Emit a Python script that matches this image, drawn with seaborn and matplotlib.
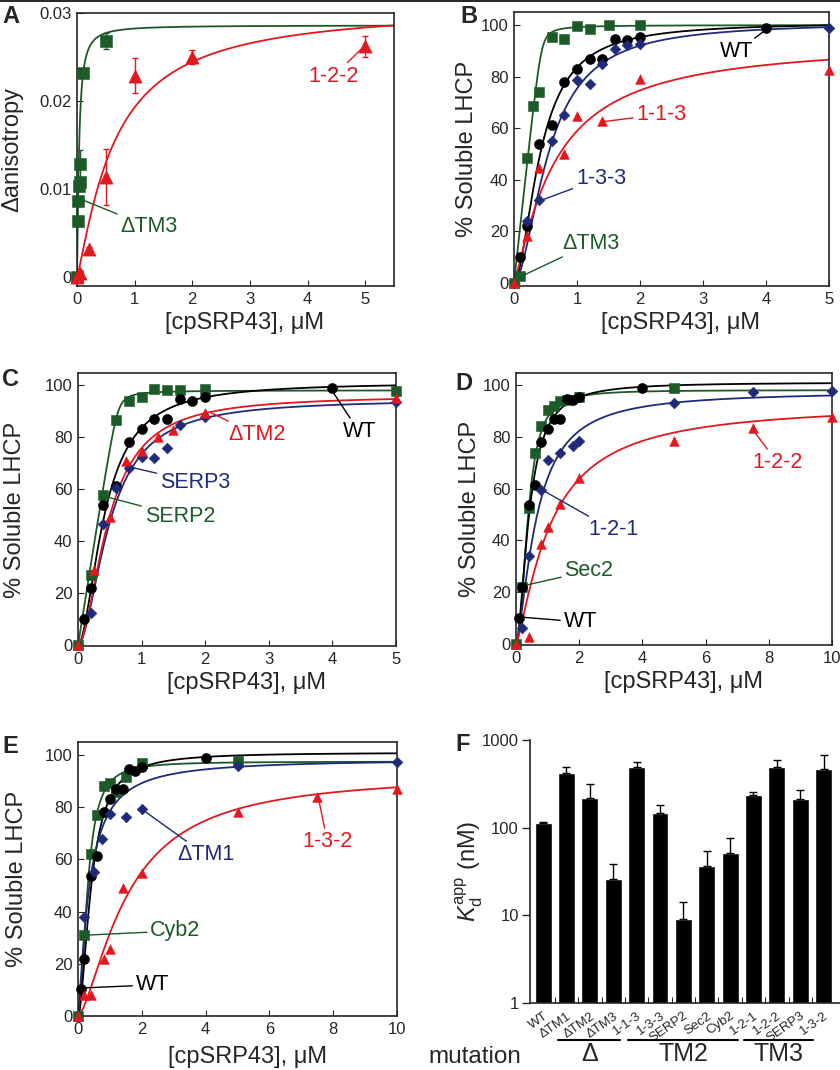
import numpy as np
import pandas as pd
import matplotlib
matplotlib.use("Agg")
import matplotlib.pyplot as plt
import matplotlib.transforms as mtransforms
from matplotlib.lines import Line2D
from matplotlib.ticker import FixedLocator, NullLocator
import seaborn as sns

# Estilo general
sns.set_style("ticks")
plt.rcParams['font.family'] = ['Liberation Sans', 'DejaVu Sans']
plt.rcParams['mathtext.fontset'] = 'custom'
plt.rcParams['mathtext.rm'] = 'Liberation Sans'
plt.rcParams['mathtext.it'] = 'Liberation Sans:italic'

GREEN = '#1c5a28'
RED = '#e3171e'
BLUE = '#1f2a78'
BLACK = '#000000'

# ---------------- datos ----------------
# Panel A (anisotropía)
a_dtm3_x = [0, 0.01, 0.025, 0.04, 0.045, 0.05, 0.1, 0.5]
a_dtm3_y = [0, 0.0064, 0.0086, 0.0104, 0.0108, 0.0129, 0.0232, 0.0268]
a_dtm3_err = [0.0002, 0.0006, 0.0005, 0.0006, 0.0006, 0.0016, 0.0004, 0.0009]
a_122_x = [0, 0.05, 0.2, 0.5, 1.0, 2.0, 5.0]
a_122_y = [0, 0.0005, 0.0032, 0.0114, 0.0229, 0.0250, 0.0262]
a_122_err = [0.0002, 0.0003, 0.0002, 0.0032, 0.0020, 0.0008, 0.0012]

# WT (comun a B-E)
wt_x = [0.1, 0.2, 0.4, 0.6, 0.8, 1.0, 1.2, 1.4, 1.6, 1.8, 2.0, 4.0]
wt_y = [10.2, 22, 53.7, 61.3, 78, 83, 86.8, 86.8, 94.7, 94, 95.3, 98.8]

# Panel B
b_dtm3_x = [0, 0.1, 0.2, 0.3, 0.4, 0.6, 0.8, 1.0, 1.2, 1.5, 2.0]
b_dtm3_y = [0, 2.7, 48.6, 68.6, 74, 95.5, 94.4, 99.4, 98.6, 99.8, 99.8]
b_133_x = [0.2, 0.4, 0.6, 0.8, 1.0, 1.2, 1.4, 1.6, 1.8, 2.0, 5.0]
b_133_y = [24, 32.2, 55, 65, 78.5, 77.2, 84.9, 90.7, 92.2, 92.6, 98.8]
b_113_x = [0, 0.2, 0.4, 0.8, 1.0, 1.4, 2.0, 5.0]
b_113_y = [0, 18.2, 44.6, 50, 64.8, 62.9, 78.9, 82.5]

# Panel C
c_serp2_x = [0, 0.2, 0.4, 0.6, 0.8, 1.0, 1.2, 1.4, 1.6, 2.0, 5.0]
c_serp2_y = [0, 26.9, 57.7, 86.5, 93.8, 95.5, 98.3, 98.1, 98.1, 98.6, 97.7]
c_serp3_x = [0.2, 0.4, 0.6, 0.8, 1.0, 1.2, 1.4, 1.6, 2.0, 5.0]
c_serp3_y = [12.4, 46.4, 60.3, 68.2, 72.2, 71.8, 75.9, 84.6, 87.6, 93.6]
c_dtm2_x = [0, 0.25, 0.5, 0.75, 1.0, 1.25, 1.5, 2.0, 5.0]
c_dtm2_y = [0, 28.8, 49.1, 70.8, 74.6, 80.1, 82.7, 89.4, 94.9]

# Panel D
d_sec2_x = [0, 0.2, 0.4, 0.6, 0.8, 1.0, 1.2, 1.4, 1.6, 2.0, 5.0]
d_sec2_y = [0, 21.8, 52.6, 73.9, 84.2, 90.4, 91.9, 93.6, 94.2, 95.5, 99.0]
d_121_x = [0.2, 0.4, 0.8, 1.0, 1.4, 1.8, 2.0, 5.0, 7.5, 10.0]
d_121_y = [6.3, 34, 59.5, 71, 73.6, 76.4, 78.5, 93.2, 97.2, 97.8]
d_122_x = [0, 0.4, 0.8, 1.0, 1.4, 2.0, 5.0, 7.5, 10.0]
d_122_y = [0, 2.8, 38.5, 45, 54, 64, 78.4, 83.5, 87.5]

# Panel E
e_cyb2_x = [0, 0.2, 0.4, 0.6, 0.8, 1.0, 1.2, 1.5, 2.0, 5.0]
e_cyb2_y = [0, 31, 62, 77, 88.1, 89.4, 85.8, 91.4, 96.8, 97.8]
e_dtm1_x = [0.2, 0.5, 0.75, 1.0, 1.5, 2.0, 5.0, 10.0]
e_dtm1_y = [37.8, 55, 68, 77.3, 76.4, 79.3, 95.8, 97.4]
e_132_x = [0, 0.2, 0.4, 0.8, 1.0, 1.4, 2.0, 5.0, 7.5, 10.0]
e_132_y = [0, 8, 8, 21.7, 25.5, 48.9, 54.9, 78.3, 84, 86.8]

# Parametros de ajuste
# Hill: [maximo, K (uM), n]
fit_a_dtm3 = [0.0286, 0.035, 1.3]
fit_a_122 = [0.0308, 0.65, 1.2]
fit_wt = [101, 0.42, 1.8]
fit_b_133 = [101, 0.55, 1.8]
fit_b_113 = [94, 0.65, 1.2]
fit_c_serp3 = [94.5, 0.5, 1.8]
fit_c_dtm2 = [96, 0.48, 1.8]
fit_d_sec2 = [98, 0.38, 2.2]
fit_d_121 = [97.5, 0.65, 1.5]
fit_d_122 = [93, 1.1, 1.3]
fit_e_cyb2 = [97.5, 0.3, 2.0]
fit_e_dtm1 = [98.5, 0.35, 1.3]
fit_e_132 = [93, 1.55, 1.5]
# union estrecha (cuadratica): [maximo, Kd (uM), LHCP (uM)]
fit_b_dtm3 = [100, 0.005, 0.44]
fit_c_serp2 = [98, 0.005, 0.63]

# Panel F: Kd aparente (nM)
f_names = ['WT', 'ΔTM1', 'ΔTM2', 'ΔTM3', '1-1-3', '1-3-3', 'SERP2', 'Sec2',
           'Cyb2', '1-2-1', '1-2-2', 'SERP3', '1-3-2']
f_kd = [112, 416, 219, 26.2, 495, 146, 9.1, 36.2, 51.7, 237, 491, 210, 462]
f_kd_top = [116, 495, 312, 38.7, 556, 180, 14.3, 53.7, 76, 255, 595, 266, 673]

W, H = 840, 1070


def hill(x, p):
    top, k, n = p
    return top * x ** n / (k ** n + x ** n)


def quad(x, p):
    top, k, lt = p
    b = lt + x + k
    return top * (b - np.sqrt(b ** 2 - 4 * lt * x)) / (2 * lt)


def add_ax(fig, l, r, t, b):
    return fig.add_axes([l / W, 1 - b / H, (r - l) / W, (b - t) / H])


def curve(ax, p, xmax, color, model=hill):
    xs = np.linspace(0, xmax, 500)
    sns.lineplot(x=xs, y=model(xs, p), ax=ax, color=color, lw=1.3,
                 estimator=None, sort=False, zorder=2)


def points(ax, x, y, marker, s, color):
    sns.scatterplot(x=x, y=y, ax=ax, marker=marker, s=s, color=color,
                    edgecolor=color, linewidth=0.4, zorder=3, clip_on=False)


def label(ax, text, xy, xytext, color):
    ax.annotate(text, xy=xy, xytext=xytext, color=color, fontsize=15.5,
                ha='center', va='center',
                arrowprops=dict(arrowstyle='-', color=color, lw=1.0,
                                shrinkA=0, shrinkB=0))


def style_ax(ax, xlim, ylim, xticks, yticks, ylabel, ylab_x, xlab_y):
    ax.set_xlim(*xlim)
    ax.set_ylim(*ylim)
    ax.set_xticks(xticks)
    ax.set_yticks(yticks)
    ax.tick_params(direction='in', length=4, width=0.8, labelsize=12,
                   top=False, right=False, pad=4)
    for sp in ax.spines.values():
        sp.set_linewidth(1.2)
        sp.set_visible(True)
    ax.set_xlabel('[cpSRP43], μM', fontsize=17)
    ax.set_ylabel(ylabel, fontsize=17)
    ax.yaxis.set_label_coords(ylab_x, 0.5)
    ax.xaxis.set_label_coords(0.53, xlab_y)


def series4(ax, xs, ys, s_scale=1.0):
    # verde (cuadrados), negro (circulos), azul (rombos), rojo (triangulos)
    markers = [('s', 50, GREEN), ('o', 52, BLACK), ('D', 30, BLUE),
               ('^', 48, RED)]
    for (m, s, c), x, y in zip(markers, xs, ys):
        points(ax, x, y, m, s * s_scale, c)


fig = plt.figure(figsize=(W / 100, H / 100), dpi=100)

# ---------------- Panel A ----------------
axA = add_ax(fig, 77, 394, 13, 286)
curve(axA, fit_a_dtm3, 5.5, GREEN)
curve(axA, fit_a_122, 5.5, RED)
axA.errorbar(a_dtm3_x, a_dtm3_y, yerr=a_dtm3_err, fmt='none', ecolor=GREEN,
             elinewidth=1, capsize=2.5, zorder=2.5)
axA.errorbar(a_122_x, a_122_y, yerr=a_122_err, fmt='none', ecolor=RED,
             elinewidth=1, capsize=2.5, zorder=2.5)
points(axA, a_dtm3_x, a_dtm3_y, 's', 80, GREEN)
points(axA, a_122_x, a_122_y, '^', 90, RED)
style_ax(axA, (0, 5.5), (-0.001, 0.030), [0, 1, 2, 3, 4, 5],
         [0, 0.01, 0.02, 0.03], 'Δanisotropy', -0.17, -0.095)
axA.set_yticklabels(['0', '0.01', '0.02', '0.03'])
label(axA, '1-2-2', (4.93, 0.0259), (4.45, 0.0228), RED)
label(axA, 'ΔTM3', (0.05, 0.0089), (1.25, 0.0057), GREEN)

# ---------------- Panel B ----------------
axB = add_ax(fig, 514, 829, 12, 286)
curve(axB, fit_b_dtm3, 5, GREEN, quad)
curve(axB, fit_wt, 5, BLACK)
curve(axB, fit_b_133, 5, BLUE)
curve(axB, fit_b_113, 5, RED)
series4(axB, [b_dtm3_x, wt_x, b_133_x, b_113_x],
        [b_dtm3_y, wt_y, b_133_y, b_113_y])
style_ax(axB, (0, 5), (-1.2, 105), [0, 1, 2, 3, 4, 5],
         [0, 20, 40, 60, 80, 100], '% Soluble LHCP', -0.115, -0.095)
label(axB, 'WT', (3.99, 98), (3.53, 89.5), BLACK)
label(axB, '1-1-3', (1.39, 62.4), (2.34, 65.4), RED)
label(axB, '1-3-3', (0.44, 32.1), (1.38, 40.6), BLUE)
label(axB, 'ΔTM3', (0.12, 2.6), (1.23, 15.4), GREEN)

# ---------------- Panel C ----------------
axC = add_ax(fig, 78, 396, 373, 646)
curve(axC, fit_c_serp2, 5, GREEN, quad)
curve(axC, fit_wt, 5, BLACK)
curve(axC, fit_c_serp3, 5, BLUE)
curve(axC, fit_c_dtm2, 5, RED)
series4(axC, [c_serp2_x, wt_x, c_serp3_x, c_dtm2_x],
        [c_serp2_y, wt_y, c_serp3_y, c_dtm2_y])
style_ax(axC, (0, 5), (-0.3, 104.6), [0, 1, 2, 3, 4, 5],
         [0, 20, 40, 60, 80, 100], '% Soluble LHCP', -0.165, -0.095)
label(axC, 'ΔTM2', (2.07, 89.6), (2.81, 80.8), RED)
label(axC, 'WT', (3.99, 98), (4.42, 82), BLACK)
label(axC, 'SERP3', (0.81, 68.5), (1.84, 62.7), BLUE)
label(axC, 'SERP2', (0.45, 57), (1.6, 49.6), GREEN)

# ---------------- Panel D ----------------
axD = add_ax(fig, 516, 832, 373, 645)
curve(axD, fit_d_sec2, 10, GREEN)
curve(axD, fit_wt, 10, BLACK)
curve(axD, fit_d_121, 10, BLUE)
curve(axD, fit_d_122, 10, RED)
series4(axD, [d_sec2_x, wt_x, d_121_x, d_122_x],
        [d_sec2_y, wt_y, d_121_y, d_122_y])
style_ax(axD, (0, 10), (-0.4, 104.6), [0, 2, 4, 6, 8, 10],
         [0, 20, 40, 60, 80, 100], '% Soluble LHCP', -0.112, -0.095)
label(axD, '1-2-2', (7.5, 82.6), (8.28, 69.9), RED)
label(axD, '1-2-1', (0.82, 59.5), (3.07, 44), BLUE)
label(axD, 'Sec2', (0.35, 22.8), (2.31, 28.2), GREEN)
label(axD, 'WT', (0.13, 10.4), (2.03, 8.5), BLACK)

# ---------------- Panel E ----------------
axE = add_ax(fig, 78, 397, 742, 1016)
curve(axE, fit_e_cyb2, 10, GREEN)
curve(axE, fit_wt, 10, BLACK)
curve(axE, fit_e_dtm1, 10, BLUE)
curve(axE, fit_e_132, 10, RED)
series4(axE, [e_cyb2_x, wt_x, e_dtm1_x, e_132_x],
        [e_cyb2_y, wt_y, e_dtm1_y, e_132_y])
style_ax(axE, (0, 10), (0, 105), [0, 2, 4, 6, 8, 10],
         [0, 20, 40, 60, 80, 100], '% Soluble LHCP', -0.157, -0.11)
label(axE, '1-3-2', (7.53, 83.9), (7.82, 66.7), RED)
label(axE, 'ΔTM1', (2.04, 78.9), (4.0, 61.7), BLUE)
label(axE, 'Cyb2', (0.27, 31), (3.05, 32.6), GREEN)
label(axE, 'WT', (0.05, 10.7), (2.33, 11.9), BLACK)

# ---------------- Panel F ----------------
axF = add_ax(fig, 530, 840, 740, 1003)
df_f = pd.DataFrame({'mutation': f_names, 'kd': f_kd})
sns.barplot(data=df_f, x='mutation', y='kd', color='black', saturation=1,
            width=0.72, errorbar=None, ax=axF, log_scale=(False, True))
err_up = np.array(f_kd_top) - np.array(f_kd)
axF.errorbar(np.arange(len(f_kd)), f_kd, yerr=[np.zeros(len(f_kd)), err_up],
             fmt='none', ecolor='black', elinewidth=1, capsize=3, zorder=3)
axF.set_yscale('log')
axF.set_ylim(1, 1000)
axF.set_xlim(-0.56, 12.7)
axF.yaxis.set_major_locator(FixedLocator([1, 10, 100, 1000]))
axF.yaxis.set_minor_locator(NullLocator())
axF.set_yticklabels(['1', '10', '100', '1000'])
axF.tick_params(axis='y', direction='out', length=6, width=1, labelsize=12,
                pad=2)
axF.set_xticks(np.arange(len(f_kd)))
axF.set_xticklabels(f_names, rotation=35, ha='right', rotation_mode='anchor',
                    fontsize=9.5)
axF.tick_params(axis='x', length=0, pad=5)
axF.xaxis.set_minor_locator(FixedLocator(np.arange(len(f_kd) - 1) + 0.5))
axF.tick_params(axis='x', which='minor', direction='in', length=4, width=0.8)
axF.spines['top'].set_visible(False)
axF.spines['right'].set_visible(False)
axF.spines['left'].set_linewidth(1.2)
axF.spines['bottom'].set_linewidth(1.2)
axF.set_xlabel('')
axF.set_ylabel(r'$K_\mathregular{d}^\mathregular{app}$ (nM)', fontsize=17)
axF.yaxis.set_label_coords(-0.145, 0.5)

# grupos de mutaciones bajo el eje
trans = mtransforms.blended_transform_factory(axF.transData, axF.transAxes)
groups = [('Δ', 0.64, 3.3), ('TM2', 3.65, 8.33), ('TM3', 8.58, 11.55)]
for name, x0, x1 in groups:
    axF.add_line(Line2D([x0, x1], [-0.141, -0.141], color='black', lw=1.5,
                        transform=trans, clip_on=False))
    axF.text((x0 + x1) / 2, -0.195, name, transform=trans, ha='center',
             va='center', fontsize=18)
fig.text(475 / W, 1 - 1057 / H, 'mutation', ha='center', va='center',
         fontsize=17.5)

# letras de panel
for letter, px, py in [('A', 2, 5), ('B', 460, 5), ('C', 2, 368),
                       ('D', 455, 372), ('E', 2, 735), ('F', 455, 733)]:
    fig.text(px / W, 1 - py / H, letter, ha='left', va='top', fontsize=17,
             fontweight='bold')

# linea superior del borde
fig.add_artist(Line2D([0, 1], [1 - 0.6 / H, 1 - 0.6 / H], color='black',
                      lw=1.2, transform=fig.transFigure))

fig.savefig('out.png', dpi=100)
